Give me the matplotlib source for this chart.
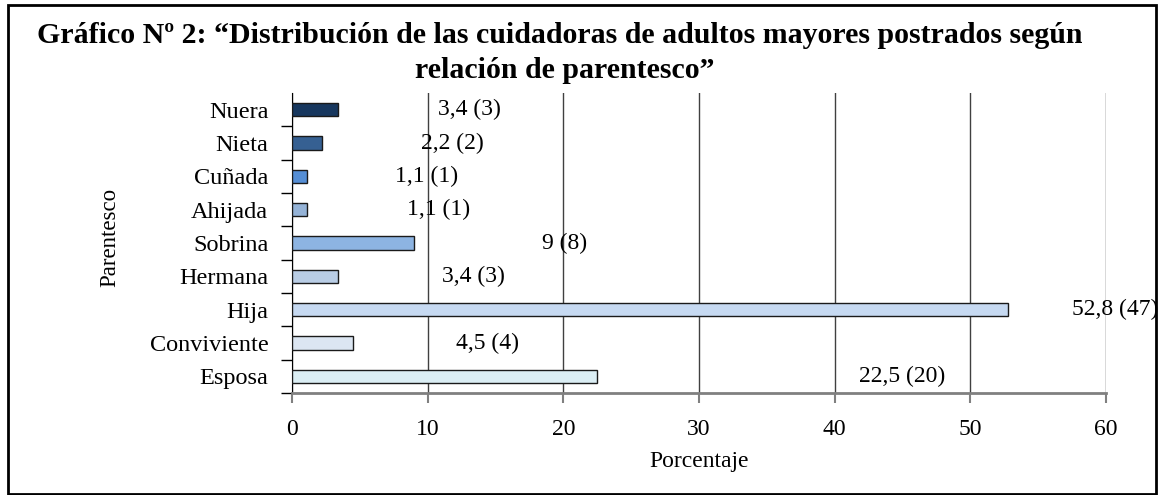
import matplotlib
matplotlib.use("Agg")
import matplotlib.pyplot as plt
from matplotlib.patches import Rectangle
from matplotlib.ticker import FixedLocator

# data (bottom to top)
categorias = ["Esposa", "Conviviente", "Hija", "Hermana", "Sobrina",
              "Ahijada", "Cuñada", "Nieta", "Nuera"]
porcentaje = [22.5, 4.5, 52.8, 3.4, 9.0, 1.1, 1.1, 2.2, 3.4]
etiquetas = ["22,5 (20)", "4,5 (4)", "52,8 (47)", "3,4 (3)", "9 (8)",
             "1,1 (1)", "1,1 (1)", "2,2 (2)", "3,4 (3)"]
# where the data labels sit along the x axis
etiqueta_x = [45.0, 14.4, 60.7, 13.4, 20.1, 10.8, 9.9, 11.8, 13.1]
colores = ["#DBEEF4", "#DCE6F2", "#C6D9F1", "#B9CDE5", "#8DB4E2",
           "#95B3D7", "#558ED5", "#366092", "#17375E"]

plt.rcParams['font.family'] = ['Liberation Serif', 'DejaVu Serif']

fig = plt.figure(figsize=(11.61, 4.95), dpi=100)
ax = fig.add_axes([292/1161, 1-393/495, (1106-292)/1161, (393-93)/495])

y = range(len(categorias))
ax.barh(y, porcentaje, height=0.4, color=colores, edgecolor="#1a1a1a",
        linewidth=1, zorder=3)

for i in y:
    ax.text(etiqueta_x[i], i, etiquetas[i], ha="center", va="center",
            fontsize=17, zorder=4)

ax.set_xlim(0, 60)
ax.set_ylim(-0.5, len(categorias) - 0.5)
ax.set_xticks([0, 10, 20, 30, 40, 50, 60])
ax.set_yticks(list(y))
ax.set_yticklabels(categorias)
ax.yaxis.set_minor_locator(FixedLocator([i - 0.5 for i in range(len(categorias))]))
ax.tick_params(axis="y", which="major", length=0, pad=17, labelsize=17.5)
ax.tick_params(axis="y", which="minor", length=8, width=1, color="black")
ax.tick_params(axis="x", which="major", length=7, width=1.5, color="#808080",
               pad=12, labelsize=17)

ax.grid(axis="x", color="#404040", linewidth=1, zorder=0)
ax.spines["top"].set_visible(False)
ax.spines["right"].set_visible(False)
ax.spines["left"].set_color("black")
ax.spines["bottom"].set_color("#808080")
ax.spines["bottom"].set_linewidth(2)

ax.set_xlabel("Porcentaje", fontsize=17, labelpad=8)
fig.text(110/1161, 1-237/495, "Parentesco", rotation=90, ha="center",
         va="center", fontsize=16.5)

fig.text(560/1161, 1-43/495,
         "Gráfico Nº 2: “Distribución de las cuidadoras de adultos mayores postrados según",
         ha="center", va="baseline", fontsize=21.5, fontweight="bold")
fig.text(565/1161, 1-78/495, "relación de parentesco”",
         ha="center", va="baseline", fontsize=21.5, fontweight="bold")

# outer frame
fig.patches.append(Rectangle((8/1161, 1/495), (1156-8)/1161, (490-1)/495,
                             transform=fig.transFigure, fill=False,
                             edgecolor="black", linewidth=2))

fig.savefig("out.png", dpi=100)
